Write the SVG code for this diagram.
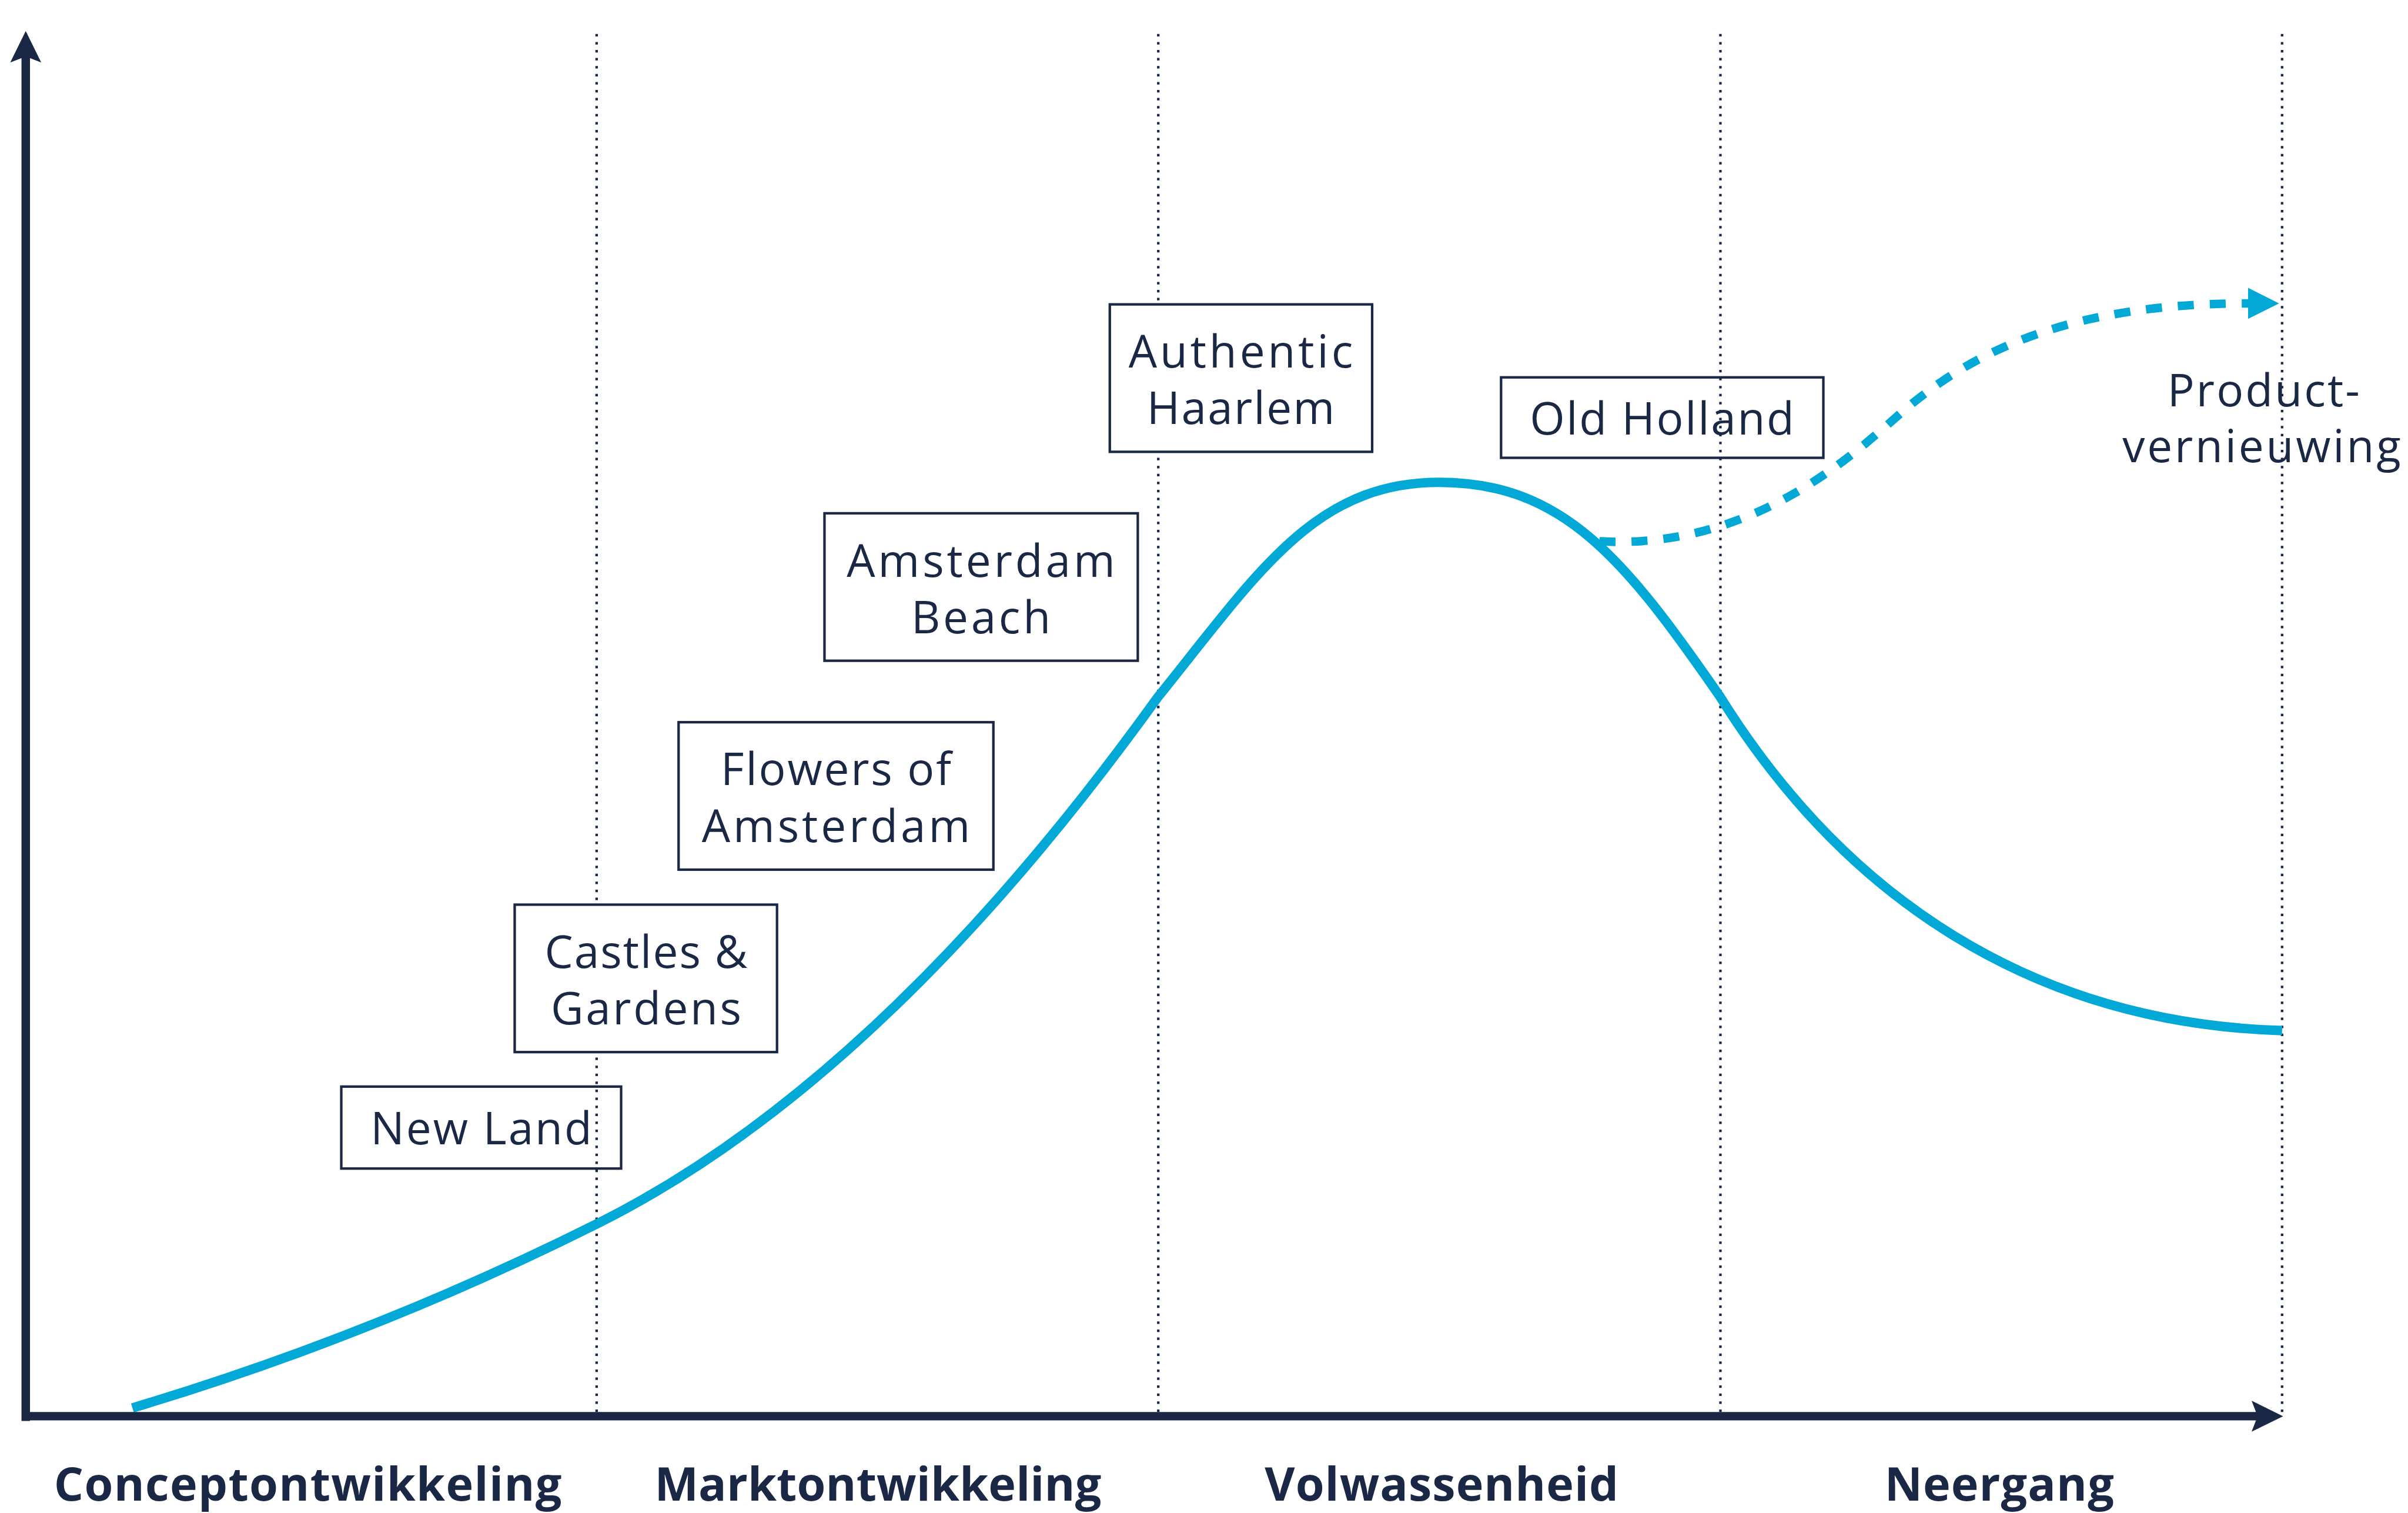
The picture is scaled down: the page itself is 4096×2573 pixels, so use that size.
<svg xmlns="http://www.w3.org/2000/svg" width="4096" height="2573" viewBox="0 0 4096 2573">
  <style>
    .axis { fill: none; stroke: #1b2845; stroke-width: 17; }
    .phase { fill: none; stroke: #1b2845; stroke-width: 5; stroke-dasharray: 5 11; }
    .box { fill: #ffffff; stroke: #1b2845; stroke-width: 5; }
    .box.open { fill: none; }
    .label { font-family: "Open Sans", "Noto Sans", "Liberation Sans", sans-serif; font-size: 90px; fill: #1b2845; text-anchor: middle; }
    .phase-name { font-family: "Open Sans", "Noto Sans", "Liberation Sans", sans-serif; font-size: 93px; font-weight: 700; fill: #1b2845; text-anchor: middle; }
    .lifecycle { fill: none; stroke: #02a9d6; stroke-width: 19; }
    .renewal { fill: none; stroke: #02a9d6; stroke-width: 17; stroke-dasharray: 32 32; }
  </style>
  <defs>
    <marker id="axis-head" markerUnits="userSpaceOnUse" markerWidth="63" markerHeight="62" refX="12" refY="31" orient="auto" overflow="visible">
      <path d="M0,0 L63,31 L0,62 L12,31 Z" fill="#1b2845"/>
    </marker>
    <marker id="renewal-head" markerUnits="userSpaceOnUse" markerWidth="62" markerHeight="62" refX="0" refY="31" orient="auto" overflow="visible">
      <path d="M0,0 L62,31 L0,62 Z" fill="#02a9d6"/>
    </marker>
  </defs>
  <rect width="4096" height="2573" fill="#ffffff"/>
  <g transform="scale(0.84997)">
    <!-- phase separators -->
    <g id="phase-lines">
      <line class="phase" x1="1194" y1="68" x2="1194" y2="2825"/>
      <line class="phase" x1="2318" y1="68" x2="2318" y2="2825"/>
      <line class="phase" x1="3443" y1="68" x2="3443" y2="2825"/>
      <line class="phase" x1="4567" y1="68" x2="4567" y2="2825"/>
    </g>

    <!-- product boxes -->
    <g id="node-new-land">
      <rect class="box open" x="683" y="2174" width="560" height="164"/>
      <text class="label" x="963" y="2290" textLength="443" lengthAdjust="spacing">New Land</text>
    </g>
    <g id="node-castles-gardens">
      <rect class="box" x="1030" y="1810" width="525" height="295"/>
      <text class="label" x="1293" y="1936" textLength="406" lengthAdjust="spacing">Castles &amp;</text>
      <text class="label" x="1293" y="2050" textLength="381" lengthAdjust="spacing">Gardens</text>
    </g>
    <g id="node-flowers-amsterdam">
      <rect class="box" x="1358" y="1445" width="630" height="295"/>
      <text class="label" x="1673" y="1571" textLength="461" lengthAdjust="spacing">Flowers of</text>
      <text class="label" x="1673" y="1685" textLength="537" lengthAdjust="spacing">Amsterdam</text>
    </g>
    <g id="node-amsterdam-beach">
      <rect class="box" x="1650" y="1027" width="627" height="295"/>
      <text class="label" x="1963" y="1154" textLength="537" lengthAdjust="spacing">Amsterdam</text>
      <text class="label" x="1963" y="1267" textLength="279" lengthAdjust="spacing">Beach</text>
    </g>
    <g id="node-authentic-haarlem">
      <rect class="box" x="2221" y="609" width="525" height="295"/>
      <text class="label" x="2483" y="735" textLength="449" lengthAdjust="spacing">Authentic</text>
      <text class="label" x="2483" y="848" textLength="376" lengthAdjust="spacing">Haarlem</text>
    </g>
    <g id="node-old-holland">
      <rect class="box open" x="3004" y="755" width="645" height="161"/>
      <text class="label" x="3326" y="870" textLength="529" lengthAdjust="spacing">Old Holland</text>
    </g>

    <!-- curves and axes -->
    <g id="connectors">
      <path class="lifecycle" d="M265,2817 C575,2724 884,2604 1194,2449 C1569,2262 1942,1916 2317,1395 C2517,1147 2630,965 2880,965 C3130,965 3253,1121 3443,1395 C3693,1795 4067,2047 4567,2062"/>
      <path class="renewal" d="M3201,1083 C3500,1100 3700,918 3800,830 C3950,698 4150,607 4499,607" marker-end="url(#renewal-head)"/>
      <path class="axis" d="M51.5,2843 V113" marker-end="url(#axis-head)"/>
      <path class="axis" d="M44,2833.5 H4518" marker-end="url(#axis-head)"/>
    </g>

    <g id="renewal-label">
      <text class="label" x="4530" y="813" textLength="385" lengthAdjust="spacing">Product-</text>
      <text class="label" x="4526" y="925" textLength="557" lengthAdjust="spacing">vernieuwing</text>
    </g>

    <!-- phase names -->
    <g id="phase-names">
      <text class="phase-name" x="616" y="3003" textLength="1016" lengthAdjust="spacing">Conceptontwikkeling</text>
      <text class="phase-name" x="1757" y="3003" textLength="894" lengthAdjust="spacing">Marktontwikkeling</text>
      <text class="phase-name" x="2885" y="3003" textLength="708" lengthAdjust="spacing">Volwassenheid</text>
      <text class="phase-name" x="4001" y="3003" textLength="459" lengthAdjust="spacing">Neergang</text>
    </g>
  </g>
</svg>
